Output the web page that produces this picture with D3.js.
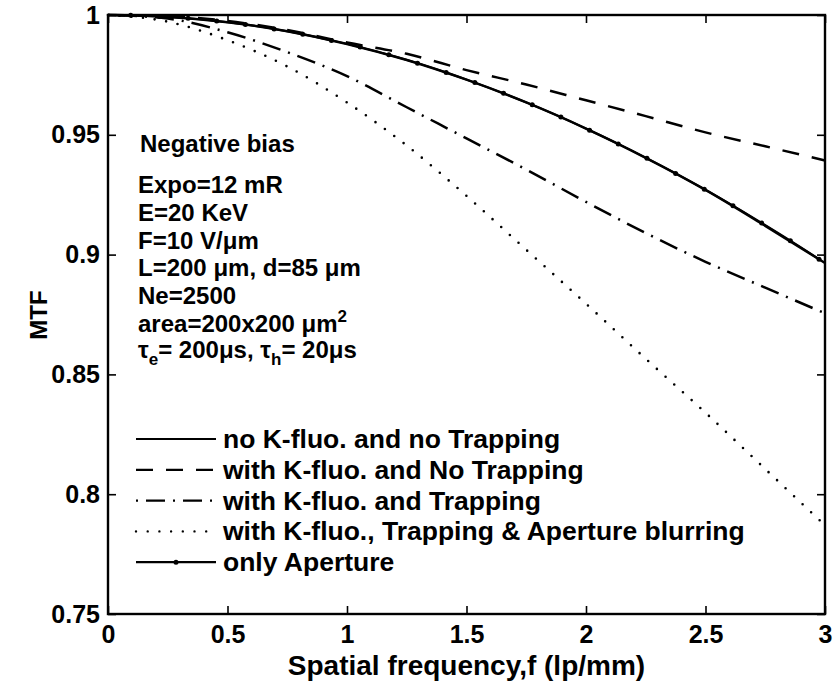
<!DOCTYPE html>
<html>
<head>
<meta charset="utf-8">
<script src="https://cdn.jsdelivr.net/npm/d3@7"></script>
<style>
  body { margin: 0; background: #fff; }
  text { font-family: "Liberation Sans", Arial, sans-serif; font-weight: bold; fill: #000; }
</style>
</head>
<body>
<div id="chart"></div>
<script>
var svgWidth = 836;
var svgHeight = 685;

var margin = { top: 15, right: 11, bottom: 71, left: 108 };
var width = svgWidth - margin.left - margin.right;
var height = svgHeight - margin.top - margin.bottom;

// spatial frequency (lp/mm) where the curves were read
var freq = [0, 0.25, 0.5, 0.75, 1, 1.25, 1.5, 1.75, 2, 2.25, 2.5, 2.75, 3];

// MTF values
var noFluoNoTrap = [1, 0.9992, 0.997, 0.9932, 0.9879, 0.9812, 0.973, 0.9635, 0.9526, 0.9404, 0.927, 0.912, 0.8965];
var fluoNoTrap = [1, 0.9995, 0.9975, 0.9937, 0.9885, 0.9838, 0.977, 0.971, 0.9644, 0.9578, 0.951, 0.9452, 0.9393];
var fluoTrap = [1, 0.9985, 0.9928, 0.9845, 0.9745, 0.9615, 0.9485, 0.9355, 0.922, 0.909, 0.897, 0.8862, 0.8755];
var fluoTrapAperture = [1, 0.9972, 0.9895, 0.9785, 0.9635, 0.9455, 0.9245, 0.902, 0.8795, 0.8565, 0.834, 0.8105, 0.787];

// "only Aperture" has its own marker points
var apertureFreq = [0.095, 0.215, 0.335, 0.455, 0.575, 0.695, 0.815, 0.935, 1.055, 1.175, 1.295, 1.415, 1.535,
  1.655, 1.775, 1.895, 2.015, 2.135, 2.255, 2.375, 2.495, 2.615, 2.735, 2.855, 2.975];
var apertureOnly = [0.9999, 0.9994, 0.9986, 0.9975, 0.996, 0.9942, 0.992, 0.9894, 0.9866, 0.9834, 0.9799, 0.976, 0.9718,
  0.9673, 0.9625, 0.9574, 0.9519, 0.9462, 0.9402, 0.9339, 0.9273, 0.9204, 0.9132, 0.9058, 0.8981];

var xTicks = [0, 0.5, 1, 1.5, 2, 2.5, 3];
var yTicks = [0.75, 0.8, 0.85, 0.9, 0.95, 1];

var legendLabels = ['no K-fluo. and no Trapping', 'with K-fluo. and No Trapping', 'with K-fluo. and Trapping',
  'with K-fluo., Trapping & Aperture blurring', 'only Aperture'];

var svg = d3.select('#chart').append('svg')
  .attr('width', svgWidth)
  .attr('height', svgHeight);

var chartGroup = svg.append('g')
  .attr('transform', `translate(${margin.left}, ${margin.top})`);

var xScale = d3.scaleLinear().domain([0, 3]).range([0, width]);
var yScale = d3.scaleLinear().domain([0.75, 1]).range([height, 0]);

// axes, matlab style ticks pointing in on all four sides
var bottomAxis = d3.axisBottom(xScale).tickValues(xTicks).tickSizeInner(-8).tickSizeOuter(0)
  .tickPadding(11).tickFormat(d => String(d));
var leftAxis = d3.axisLeft(yScale).tickValues(yTicks).tickSizeInner(-8).tickSizeOuter(0)
  .tickPadding(8).tickFormat(d => String(d));
var topAxis = d3.axisTop(xScale).tickValues(xTicks).tickSizeInner(-8).tickSizeOuter(0).tickFormat('');
var rightAxis = d3.axisRight(yScale).tickValues(yTicks).tickSizeInner(-8).tickSizeOuter(0).tickFormat('');

chartGroup.append('g').attr('transform', `translate(0, ${height})`).call(bottomAxis);
chartGroup.append('g').call(leftAxis);
chartGroup.append('g').call(topAxis);
chartGroup.append('g').attr('transform', `translate(${width}, 0)`).call(rightAxis);

chartGroup.selectAll('.domain').remove();
chartGroup.selectAll('.tick line').attr('stroke', '#000').attr('stroke-width', 1.6);
chartGroup.selectAll('.tick text').style('font-size', '25px').attr('fill', '#000');

chartGroup.append('rect')
  .attr('width', width)
  .attr('height', height)
  .attr('fill', 'none')
  .attr('stroke', '#000')
  .attr('stroke-width', 2.4);

// the curves
var series = [
  { values: noFluoNoTrap, dash: null },
  { values: fluoNoTrap, dash: '17,13' },
  { values: fluoTrap, dash: '2,8,19,8' },
  { values: fluoTrapAperture, dash: '0,11.7' }
];

var line = d3.line()
  .x(d => xScale(d[0]))
  .y(d => yScale(d[1]))
  .curve(d3.curveMonotoneX);

series.forEach(function(s) {
  var isDot = s.dash === '0,11.7';
  chartGroup.append('path')
    .datum(freq.map((f, i) => [f, s.values[i]]))
    .attr('fill', 'none')
    .attr('stroke', '#000')
    .attr('stroke-width', isDot ? 2.6 : 2.5)
    .attr('stroke-linecap', isDot ? 'round' : 'butt')
    .attr('stroke-dasharray', s.dash)
    .attr('d', line);
});

var apertureData = apertureFreq.map((f, i) => [f, apertureOnly[i]]);

chartGroup.append('path')
  .datum(apertureData)
  .attr('fill', 'none')
  .attr('stroke', '#000')
  .attr('stroke-width', 2)
  .attr('d', line);

chartGroup.selectAll('.apDot')
  .data(apertureData)
  .enter()
  .append('circle')
  .attr('cx', d => xScale(d[0]))
  .attr('cy', d => yScale(d[1]))
  .attr('r', 2.5)
  .attr('fill', '#000');

// notes in the upper left
var notes = svg.append('g').style('font-size', '24px');

notes.append('text').attr('x', 140).attr('y', 152).text('Negative bias');

var noteLines = ['Expo=12 mR', 'E=20 KeV', 'F=10 V/\u03bcm', 'L=200 \u03bcm, d=85 \u03bcm', 'Ne=2500'];
noteLines.forEach(function(t, i) {
  notes.append('text').attr('x', 138).attr('y', 193 + i * 27.8).text(t);
});

var areaText = notes.append('text').attr('x', 138).attr('y', 193 + 5 * 27.8);
areaText.append('tspan').text('area=200x200 \u03bcm');
areaText.append('tspan').attr('dy', -10).style('font-size', '17px').text('2');

var tauText = notes.append('text').attr('x', 138).attr('y', 191 + 6 * 27.8);
tauText.append('tspan').text('\u03c4');
tauText.append('tspan').attr('dy', 7).style('font-size', '17px').text('e');
tauText.append('tspan').attr('dy', -7).text('= 200\u03bcs, \u03c4');
tauText.append('tspan').attr('dy', 7).style('font-size', '17px').text('h');
tauText.append('tspan').attr('dy', -7).text('= 20\u03bcs');

// legend
var legendDash = [null, '17,13', '2,8,19,8', '0,11.7', null];
var legend = svg.append('g').style('font-size', '26.5px');

legendLabels.forEach(function(label, i) {
  var ly = 439 + i * 30.8;
  var isDot = legendDash[i] === '0,11.7';
  legend.append('line')
    .attr('x1', 136).attr('x2', 216)
    .attr('y1', ly).attr('y2', ly)
    .attr('stroke', '#000')
    .attr('stroke-width', isDot ? 2.4 : 2.2)
    .attr('stroke-linecap', isDot ? 'round' : 'butt')
    .attr('stroke-dasharray', legendDash[i]);
  if (i === 4) {
    legend.append('circle').attr('cx', 176).attr('cy', ly).attr('r', 2.5).attr('fill', '#000');
  }
  legend.append('text')
    .attr('x', 223)
    .attr('y', ly + 9)
    .text(label);
});

// axis titles
svg.append('text')
  .attr('x', margin.left + width / 2)
  .attr('y', 675)
  .attr('text-anchor', 'middle')
  .style('font-size', '28px')
  .text('Spatial frequency,f (lp/mm)');

svg.append('text')
  .attr('transform', 'translate(47, 315) rotate(-90)')
  .attr('text-anchor', 'middle')
  .style('font-size', '24px')
  .text('MTF');
</script>
</body>
</html>
